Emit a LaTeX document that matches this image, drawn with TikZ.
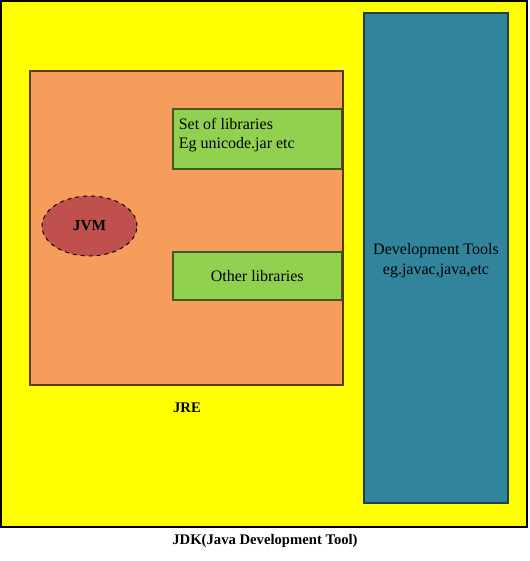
\documentclass[tikz,border=0pt]{standalone}
\usepackage{fontspec}
\setmainfont{Liberation Serif}
\usetikzlibrary{shapes.geometric}
\definecolor{jdkyellow}{HTML}{FFFF00}
\definecolor{jreorange}{HTML}{F79D5B}
\definecolor{libgreen}{HTML}{92D050}
\definecolor{toolteal}{HTML}{31849B}
\definecolor{jvmred}{HTML}{C0504D}
\definecolor{greenedge}{HTML}{3F5A22}
\definecolor{orangeedge}{HTML}{5A3A1A}
\definecolor{tealedge}{HTML}{1F3F48}
\begin{document}
\begin{tikzpicture}[x=0.75pt,y=-0.75pt,
  box/.style={rectangle,inner sep=0pt,line width=0.9pt},
  jdkbox/.style={box,fill=jdkyellow,draw=black},
  jrebox/.style={box,fill=jreorange,draw=orangeedge},
  libbox/.style={box,fill=libgreen,draw=greenedge,font=\fontsize{12}{14.4}\selectfont},
  toolbox/.style={box,fill=toolteal,draw=tealedge},
  txt/.style={inner sep=0pt,font=\fontsize{12}{15}\selectfont},
  jvmshape/.style={ellipse,fill=jvmred,draw=black,dashed,line width=0.7pt,inner sep=0pt,font=\fontsize{11.5}{13}\selectfont\bfseries},
  lbl/.style={inner sep=0pt,font=\fontsize{11}{13}\selectfont\bfseries}]
\useasboundingbox (0,0) rectangle (529,561);
\fill[white] (0,0) rectangle (529,561);
\node[jdkbox,minimum width=394.5pt,minimum height=394.5pt] (jdk) at (264,264) {};
\node[jrebox,minimum width=234.75pt,minimum height=235.5pt] (jre) at (186.5,228) {};
\node[toolbox,minimum width=108pt,minimum height=367.5pt] (tools) at (436,258) {};
\node[txt,align=center] (toolstext) at ([yshift=-2.2pt]tools.center) {Development Tools\\eg.javac,java,etc};
\node[libbox,minimum width=126.4pt,minimum height=45pt] (lib1) at (257.25,139) {};
\node[txt,anchor=north west,align=left,font=\fontsize{12}{14.25}\selectfont] (lib1text) at ([xshift=4.6pt,yshift=-7.4pt]lib1.north west) {Set of libraries\\Eg unicode.jar etc};
\node[libbox,minimum width=126.4pt,minimum height=36pt] (lib2) at (257.25,276) {Other libraries};
\node[jvmshape,minimum width=71.25pt,minimum height=45pt] (jvm) at (89.5,226) {JVM};
\node[lbl] (jrelabel) at (187,408) {JRE};
\node[lbl] (jdklabel) at (265,541) {JDK(Java Development Tool)};
\end{tikzpicture}
\end{document}
